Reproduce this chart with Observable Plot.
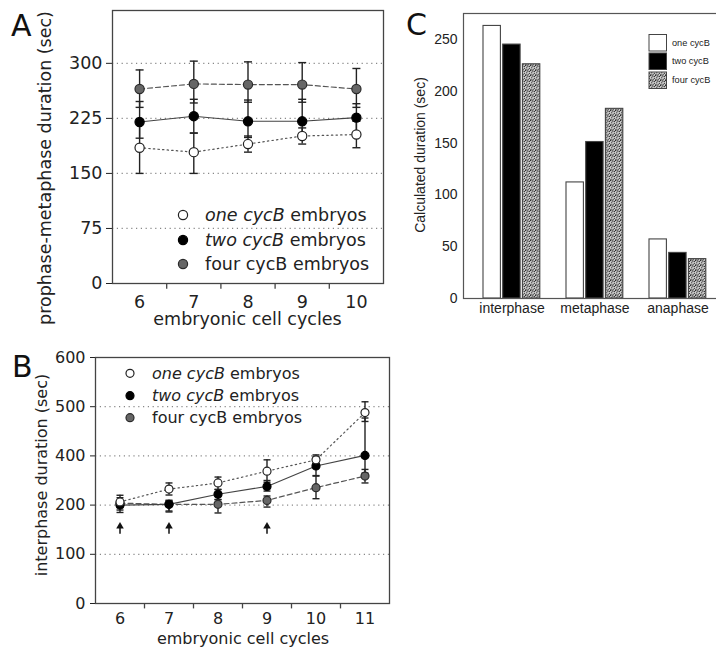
<!DOCTYPE html>
<html><head><meta charset="utf-8">
<script src="https://cdn.jsdelivr.net/npm/d3@7"></script>
<script src="https://cdn.jsdelivr.net/npm/@observablehq/plot@0.6"></script>
<style>
body{margin:0;background:#fff;}
#root{position:relative;width:716px;height:653px;overflow:hidden;background:#fff;font-family:"DejaVu Sans",sans-serif;}
.panel{position:absolute;}
#overlay{position:absolute;left:0;top:0;pointer-events:none;}
</style></head><body><div id="root"></div>
<script>
// ---------- Panel A data ----------
const cyclesA = [6, 7, 8, 9, 10];
const aOneV = [185, 179, 190, 201, 203];
const aOneLo = [150, 150, 179, 190, 185];
const aOneHi = [220, 205, 201, 212, 221];
const aTwoV = [220, 228, 221, 221, 226];
const aTwoLo = [198, 205, 199, 199, 205];
const aTwoHi = [248, 251, 250, 251, 245];
const aFourV = [265, 272, 271, 271, 265];
const aFourLo = [240, 246, 247, 247, 240];
const aFourHi = [291, 303, 302, 301, 293];
const aYTicks = [0, 75, 150, 225, 300];
const aGrid = [75, 150, 225, 300];

// ---------- Panel B data ----------
const cyclesB = [6, 7, 8, 9, 10, 11];
const bOneV = [213, 265, 290, 338, 384, 488];
const bOneLo = [195, 241, 263, 293, 370, 470];
const bOneHi = [240, 290, 314, 384, 402, 510];
const bTwoV = [200, 203, 244, 276, 359, 401];
const bTwoLo = [185, 186, 223, 257, 320, 330];
const bTwoHi = [215, 219, 264, 300, 398, 477];
const bFourV = [208, 203, 203, 219, 271, 318];
const bFourLo = [190, 188, 184, 196, 226, 290];
const bFourHi = [230, 219, 222, 237, 318, 345];
const bYTicks = [0, 100, 200, 400, 500, 600];   // as printed on the original axis (evenly spaced)
const bGrid = [100, 200, 400, 500];
const arrowCycles = [6, 7, 9];
const arrowFrom = 141, arrowTo = 157;

// ---------- Panel C data ----------
const phases = ["interphase", "metaphase", "anaphase"];
const cOne = [263, 112, 57];
const cTwo = [245, 151, 44];
const cFour = [226, 183, 38];
const cYTicks = [0, 50, 100, 150, 200, 250];

// ---------- labels ----------
const seriesKeys = ["one", "two", "four"];
const legendItalic = ["one cycB", "two cycB", ""];
const legendPlain = [" embryos", " embryos", "four cycB embryos"];
const legendC = ["one cycB", "two cycB", "four cycB"];
const xLabelAB = "embryonic cell cycles";
const yLabelA = "prophase-metaphase duration (sec)";
const yLabelB = "interphase duration (sec)";
const yLabelC = "Calculated duration (sec)";

const ST = {
  one:  {fill: "#fff", stroke: "#222", line: "#555", dash: "1.4,3.2", lw: 1.2},
  two:  {fill: "#000", stroke: "#000", line: "#444", dash: undefined, lw: 1.1},
  four: {fill: "#666", stroke: "#2a2a2a", line: "#555", dash: "5,3", lw: 1.2}
};
const CF = {one: "#fff", two: "#000", four: "url(#stipple)"};

const capSymbol = {draw(ctx, size) { const w = Math.sqrt(size / Math.PI); ctx.moveTo(-w, 0); ctx.lineTo(w, 0); }};

// the printed B axis is evenly spaced over its (uneven) labels: map values onto label positions
const bPos = d3.scaleLinear().domain(bYTicks).range(d3.range(bYTicks.length));

function rowsOf(cycles, v, lo, hi, f = d => d) { return cycles.map((c, i) => ({cycle: c, v: f(v[i]), lo: f(lo[i]), hi: f(hi[i])})); }
const rowsA = {one: rowsOf(cyclesA, aOneV, aOneLo, aOneHi), two: rowsOf(cyclesA, aTwoV, aTwoLo, aTwoHi), four: rowsOf(cyclesA, aFourV, aFourLo, aFourHi)};
const rowsB = {one: rowsOf(cyclesB, bOneV, bOneLo, bOneHi, bPos), two: rowsOf(cyclesB, bTwoV, bTwoLo, bTwoHi, bPos), four: rowsOf(cyclesB, bFourV, bFourLo, bFourHi, bPos)};

const root = document.getElementById("root");
function place(node, left, top, w) {
  const d = document.createElement("div");
  d.className = "panel"; d.style.left = left + "px"; d.style.top = top + "px"; d.style.width = w + "px";
  d.appendChild(node); root.appendChild(d);
}

function seriesMarks(rows, r, capR) {
  const order = ["four", "two", "one"];
  const marks = [];
  for (const k of order) marks.push(Plot.line(rows[k], {x: "cycle", y: "v", stroke: ST[k].line, strokeWidth: ST[k].lw, strokeDasharray: ST[k].dash}));
  for (const k of order) {
    marks.push(Plot.ruleX(rows[k], {x: "cycle", y1: "lo", y2: "hi", stroke: "#222", strokeWidth: 1.4}));
    marks.push(Plot.dot(rows[k], {x: "cycle", y: "lo", symbol: capSymbol, r: capR, fill: "none", stroke: "#222", strokeWidth: 1.4}));
    marks.push(Plot.dot(rows[k], {x: "cycle", y: "hi", symbol: capSymbol, r: capR, fill: "none", stroke: "#222", strokeWidth: 1.4}));
  }
  for (const k of order) marks.push(Plot.dot(rows[k], {x: "cycle", y: "v", r, fill: ST[k].fill, stroke: ST[k].stroke, strokeWidth: 1.2}));
  return marks;
}

// ---------- Panel A ----------
const boundsA = cyclesA.slice(1).map(c => c - 0.5);
const plotA = Plot.plot({
  width: 395, height: 340,
  marginLeft: 112, marginRight: 12, marginTop: 10, marginBottom: 57,
  style: {fontFamily: "'DejaVu Sans', sans-serif", fontSize: "17.5px", color: "#222", background: "transparent", overflow: "visible"},
  x: {domain: [cyclesA[0] - 0.5, cyclesA[cyclesA.length - 1] + 0.5], ticks: cyclesA, tickSize: 0, tickPadding: 12, tickFormat: d => String(d), label: null},
  y: {domain: [0, 372], ticks: aYTicks, tickSize: 6, tickPadding: 4, tickFormat: d => String(d), label: null},
  marks: [
    Plot.ruleY(aGrid, {y: d => d, stroke: "#888", strokeWidth: 1.2, strokeDasharray: "1.2,3.6"}),
    Plot.ruleX(boundsA, {x: d => d, y1: 0, y2: -8, stroke: "#444", strokeWidth: 1.3}),
    Plot.frame({stroke: "#444", strokeWidth: 1.3}),
    ...seriesMarks(rowsA, 4.6, 4)
  ]
});
place(plotA, 0, 0, 395);

// ---------- Panel B ----------
const boundsB = cyclesB.slice(1).map(c => c - 0.5);
const plotB = Plot.plot({
  width: 400, height: 313,
  marginLeft: 95, marginRight: 11, marginTop: 17, marginBottom: 50,
  style: {fontFamily: "'DejaVu Sans', sans-serif", fontSize: "16px", color: "#222", background: "transparent", overflow: "visible"},
  x: {domain: [cyclesB[0] - 0.5, cyclesB[cyclesB.length - 1] + 0.5], ticks: cyclesB, tickSize: 0, tickPadding: 9, tickFormat: d => String(d), label: null},
  y: {domain: [0, bYTicks.length - 1], ticks: d3.range(bYTicks.length), tickSize: 5, tickPadding: 5, tickFormat: i => String(bYTicks[i]), label: null},
  marks: [
    Plot.ruleY(bGrid, {y: d => bPos(d), stroke: "#888", strokeWidth: 1.2, strokeDasharray: "1.2,3.6"}),
    Plot.ruleX(boundsB, {x: d => d, y1: 0, y2: -0.11, stroke: "#444", strokeWidth: 1.3}),
    Plot.frame({stroke: "#444", strokeWidth: 1.3}),
    Plot.ruleX(arrowCycles, {x: d => d, y1: bPos(arrowFrom), y2: bPos(arrowTo), stroke: "#111", strokeWidth: 1.5}),
    Plot.dot(arrowCycles, {x: d => d, y: bPos(arrowTo), symbol: "triangle", r: 2.8, fill: "#111"}),
    ...seriesMarks(rowsB, 4, 3.5)
  ]
});
place(plotB, 0, 340, 400);

// ---------- Panel C ----------
const cRows = phases.flatMap((p, i) => [
  {phase: p, s: "one", v: cOne[i]}, {phase: p, s: "two", v: cTwo[i]}, {phase: p, s: "four", v: cFour[i]}
]);
const cRange = [74.5, 323.5];
const cBw = (cRange[1] - cRange[0]) / phases.length;
const cPad = 13, cBarW = 17.4, cGap = 2.3;
const plotC = Plot.plot({
  width: 324, height: 340,
  marginLeft: 68, marginRight: 0, marginTop: 13, marginBottom: 42,
  style: {fontFamily: "'Liberation Sans', Arial, sans-serif", fontSize: "14px", color: "#222", background: "transparent", overflow: "visible"},
  x: {domain: phases, range: cRange, padding: 0, tickSize: 0, tickPadding: 5, label: null},
  y: {domain: [0, 275], ticks: cYTicks, tickSize: 0, tickPadding: 6, tickFormat: d => String(d), label: null},
  marks: [
    ...seriesKeys.map((k, i) => Plot.barY(cRows.filter(d => d.s === k), {
      x: "phase", y: "v", fill: CF[k], stroke: "#444", strokeWidth: 1.1,
      insetLeft: cPad + i * (cBarW + cGap), insetRight: cBw - cPad - i * (cBarW + cGap) - cBarW
    })),
    Plot.frame({stroke: "#555", strokeWidth: 1.2})
  ]
});
place(plotC, 395, 0, 324);

// ---------- Overlay: panel letters, axis titles, legends, pattern ----------
const ov = d3.select(root).append("svg").attr("id", "overlay").attr("width", 716).attr("height", 653);
const pat = ov.append("defs").append("pattern").attr("id", "stipple").attr("patternUnits", "userSpaceOnUse").attr("width", 5).attr("height", 5);
pat.append("rect").attr("width", 5).attr("height", 5).attr("fill", "#cfcfcf");
[[0,0],[2.5,0.6],[1.2,2.2],[3.8,2.8],[0.4,3.9],[2.6,4.1],[4.1,0.9],[1.6,0.3]].forEach(([x,y]) => pat.append("rect").attr("x", x).attr("y", y).attr("width", 1.1).attr("height", 1.1).attr("fill", "#2a2a2a"));

const letters = [["A", 11, 36], ["B", 12, 377], ["C", 406, 35]];
ov.selectAll("text.letter").data(letters).join("text").attr("class", "letter")
  .attr("x", d => d[1]).attr("y", d => d[2]).text(d => d[0])
  .attr("font-family", "'DejaVu Sans', sans-serif").attr("font-size", 30).attr("fill", "#111");

// axis titles: [text, x, y, rotate, font, size]
const titles = [
  [xLabelAB, 247.5, 325, 0, "'DejaVu Sans', sans-serif", 17.5],
  [yLabelA, 51, 168, -90, "'DejaVu Sans', sans-serif", 17.5],
  [xLabelAB, 243, 644, 0, "'DejaVu Sans', sans-serif", 16],
  [yLabelB, 47, 475, -90, "'DejaVu Sans', sans-serif", 16],
  [yLabelC, 425, 155, -90, "'Liberation Sans', Arial, sans-serif", 14]
];
titles.forEach(([t, x, y, rot, ff, fs]) => {
  ov.append("text").attr("transform", `translate(${x},${y}) rotate(${rot})`).attr("text-anchor", "middle")
    .attr("font-family", ff).attr("font-size", fs).attr("fill", "#222").text(t);
});

function legendAB(x0, tx, ys, r, fs) {
  seriesKeys.forEach((k, i) => {
    ov.append("circle").attr("cx", x0).attr("cy", ys[i]).attr("r", r).attr("fill", ST[k].fill).attr("stroke", ST[k].stroke).attr("stroke-width", 1.2);
    const t = ov.append("text").attr("x", tx).attr("y", ys[i] + fs * 0.36).attr("font-family", "'DejaVu Sans', sans-serif").attr("font-size", fs).attr("fill", "#222");
    if (legendItalic[i]) t.append("tspan").attr("font-style", "italic").text(legendItalic[i]);
    t.append("tspan").text(legendPlain[i]);
  });
}
legendAB(183, 205, [215, 240, 264], 4.6, 17.5);
legendAB(130, 152, [373.3, 395.7, 417.7], 4, 16);

const cLegY = [34.5, 53, 72];
seriesKeys.forEach((k, i) => {
  ov.append("rect").attr("x", 649).attr("y", cLegY[i]).attr("width", 17.5).attr("height", 16.5).attr("fill", CF[k]).attr("stroke", "#444").attr("stroke-width", 1);
  ov.append("text").attr("x", 672).attr("y", cLegY[i] + 8.25 + 3.2).attr("font-family", "'Liberation Sans', Arial, sans-serif").attr("font-size", 9.2).attr("fill", "#222").text(legendC[i]);
});
</script></body></html>
